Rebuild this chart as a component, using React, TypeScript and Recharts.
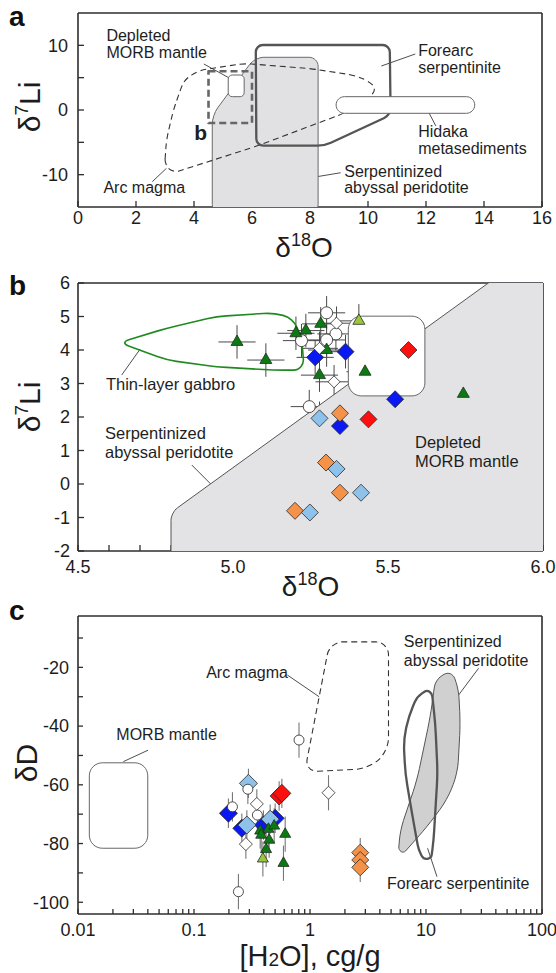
import React from 'react';
import { ScatterChart, Scatter, XAxis, YAxis, ErrorBar, ReferenceLine } from 'recharts';

const FONT = '"Liberation Sans", Arial, Helvetica, sans-serif';
const INK = '#2e2e2e';

const GREEN = '#0c7a12';
const LIME = '#9cc63e';
const BLUE = '#0a18f2';
const RED = '#fb0f0f';
const ORANGE = '#f5924a';
const SKY = '#8ec2ea';

type Pt = { x: number; y: number };
type Obs = { x: number; y: number; ex?: number; ey?: number };
type Note = { x: number; y: number; text: string[] };

// ---------- (a) δ18O vs δ7Li: reference fields ----------
const aArcMagma: Pt[] = [
  { x: 2.99, y: -8.5 }, { x: 3.29, y: -9.7 }, { x: 6.09, y: -5.7 }, { x: 9.18, y: -0.5 },
  { x: 10.1, y: 2.1 }, { x: 10.28, y: 3.4 }, { x: 9.97, y: 4.6 }, { x: 9.49, y: 5.4 },
  { x: 8.03, y: 6.4 }, { x: 5.72, y: 7.2 }, { x: 4.14, y: 6.1 }, { x: 3.66, y: 4.6 },
  { x: 3.53, y: 3.1 }, { x: 3.29, y: 0 }, { x: 3.05, y: -4.6 },
];
const aPeridotite: Pt[] = [
  { x: 4.63, y: -16 }, { x: 4.63, y: -0.8 }, { x: 6.1, y: 8.15 }, { x: 8.28, y: 8.15 }, { x: 8.28, y: -16 },
];
const aForearc: Pt[] = [
  { x: 6.13, y: 10.05 }, { x: 10.75, y: 10.05 }, { x: 10.78, y: -0.77 }, { x: 8.5, y: -5.52 }, { x: 6.15, y: -5.52 },
];
const aMorb: Pt[] = [
  { x: 5.18, y: 5.41 }, { x: 5.73, y: 5.41 }, { x: 5.73, y: 2.06 }, { x: 5.18, y: 2.06 },
];
const aHidaka: Pt[] = [
  { x: 8.9, y: 2.06 }, { x: 13.68, y: 2.06 }, { x: 13.68, y: -0.51 }, { x: 8.9, y: -0.51 },
];
const aInset: Pt[] = [
  { x: 4.5, y: 6 }, { x: 6, y: 6 }, { x: 6, y: -2 }, { x: 4.5, y: -2 },
];
const aNotes: Note[] = [
  { x: 0.98, y: 10.67, text: ['Depleted', 'MORB mantle'] },
  { x: 11.73, y: 8.35, text: ['Forearc', 'serpentinite'] },
  { x: 11.73, y: -4.18, text: ['Hidaka', 'metasediments'] },
  { x: 9.18, y: -10.36, text: ['Serpentinized', 'abyssal peridotite'] },
  { x: 0.875, y: -12.83, text: ['Arc magma'] },
];
const aInsetTag: Note[] = [{ x: 4.01, y: -4.64, text: ['b'] }];
const aLeaders: [Pt, Pt][] = [
  [{ x: 4.34, y: 7.11 }, { x: 5.28, y: 4.79 }],
  [{ x: 11.63, y: 8.66 }, { x: 10.46, y: 6.8 }],
  [{ x: 12.34, y: -2.47 }, { x: 12.1, y: -0.42 }],
  [{ x: 9.06, y: -9.7 }, { x: 7.91, y: -10.56 }],
  [{ x: 2.56, y: -11.09 }, { x: 3.05, y: -9.02 }],
];
const aXTicks = [0, 2, 4, 6, 8, 10, 12, 14, 16];
const aYTicks = [-10, -5, 0, 5, 10];

// ---------- (b) close-up of the inset ----------
const bPeridotite: Pt[] = [
  { x: 4.8, y: -2.3 }, { x: 4.8, y: -0.85 }, { x: 5.861, y: 6.25 }, { x: 6.1, y: 6.25 }, { x: 6.1, y: -2.3 },
];
const bMorb: Pt[] = [
  { x: 5.372, y: 5.01 }, { x: 5.619, y: 5.01 }, { x: 5.619, y: 2.63 }, { x: 5.372, y: 2.63 },
];
const bGabbro: Pt[] = [
  { x: 4.633, y: 4.22 }, { x: 4.786, y: 4.65 }, { x: 4.947, y: 5.0 }, { x: 5.13, y: 5.11 },
  { x: 5.195, y: 4.95 }, { x: 5.222, y: 4.3 }, { x: 5.228, y: 3.6 }, { x: 5.21, y: 3.4 },
  { x: 5.13, y: 3.4 }, { x: 4.947, y: 3.5 }, { x: 4.786, y: 3.7 },
];
const bGreen: Obs[] = [
  { x: 5.013, y: 4.24, ex: 0.06, ey: 0.5 }, { x: 5.106, y: 3.7, ex: 0.06, ey: 0.5 },
  { x: 5.203, y: 4.5, ex: 0.06, ey: 0.5 }, { x: 5.235, y: 4.58, ex: 0.06, ey: 0.5 },
  { x: 5.283, y: 4.78, ex: 0.06, ey: 0.5 }, { x: 5.302, y: 4.0, ex: 0.06, ey: 0.5 },
  { x: 5.426, y: 3.35, ex: 0.06, ey: 0.5 }, { x: 5.279, y: 3.25, ex: 0.06, ey: 0.5 },
  { x: 5.743, y: 2.69, ex: 0.06, ey: 0.5 },
];
const bLime: Obs[] = [{ x: 5.406, y: 4.87, ex: 0.06, ey: 0.5 }];
const bCircle: Obs[] = [
  { x: 5.302, y: 5.11, ex: 0.06, ey: 0.5 }, { x: 5.332, y: 4.48, ex: 0.06, ey: 0.5 },
  { x: 5.221, y: 4.28, ex: 0.06, ey: 0.5 }, { x: 5.302, y: 4.3, ex: 0.06, ey: 0.5 },
  { x: 5.246, y: 2.31, ex: 0.06, ey: 0.5 },
];
const bWhite: Obs[] = [
  { x: 5.334, y: 4.8, ex: 0.06, ey: 0.5 }, { x: 5.279, y: 4.05, ex: 0.06, ey: 0.5 },
  { x: 5.326, y: 3.05, ex: 0.06, ey: 0.5 },
];
const bBlue: Obs[] = [
  { x: 5.265, y: 3.78, ex: 0.06, ey: 0.5 }, { x: 5.363, y: 3.95, ex: 0.06, ey: 0.5 },
  { x: 5.523, y: 2.53, ex: 0.06, ey: 0.5 }, { x: 5.345, y: 1.73, ex: 0.06, ey: 0.5 },
];
const bRed: Obs[] = [
  { x: 5.566, y: 4.0, ex: 0.06, ey: 0.5 }, { x: 5.437, y: 1.93, ex: 0.06, ey: 0.5 },
];
const bOrange: Obs[] = [
  { x: 5.345, y: 2.11, ex: 0.06, ey: 0.5 }, { x: 5.3, y: 0.64, ex: 0.06, ey: 0.45 },
  { x: 5.345, y: -0.26, ex: 0.06, ey: 0.5 }, { x: 5.2, y: -0.8, ex: 0.06, ey: 0.42 },
];
const bSky: Obs[] = [
  { x: 5.279, y: 1.96, ex: 0.06, ey: 0.5 }, { x: 5.334, y: 0.45, ex: 0.06, ey: 0.5 },
  { x: 5.413, y: -0.26, ex: 0.06, ey: 0.5 }, { x: 5.248, y: -0.85, ex: 0.06, ey: 0.42 },
];
const bNotes: Note[] = [
  { x: 4.59, y: 2.806, text: ['Thin-layer gabbro'] },
  { x: 4.587, y: 1.343, text: ['Serpentinized', 'abyssal peridotite'] },
  { x: 5.587, y: 1.06, text: ['Depleted', 'MORB mantle'] },
];
const bLeaders: [Pt, Pt][] = [
  [{ x: 4.641, y: 3.254 }, { x: 4.7, y: 4.021 }],
  [{ x: 4.867, y: 0.567 }, { x: 4.953, y: -0.23 }],
  [{ x: 5.652, y: 1.412 }, { x: 5.603, y: 2.904 }],
];
const bXTicks = [4.5, 4.6, 4.7, 4.8, 4.9, 5.0, 5.1, 5.2, 5.3, 5.4, 5.5, 5.6, 5.7, 5.8, 5.9, 6.0];
const bYTicks = [-2, -1, 0, 1, 2, 3, 4, 5, 6];

// ---------- (c) water content vs δD ----------
const cMorb: Pt[] = [
  { x: 0.01252, y: -52.5 }, { x: 0.03995, y: -52.5 }, { x: 0.03995, y: -81.6 }, { x: 0.01252, y: -81.6 },
];
const cArc: Pt[] = [
  { x: 1.48, y: -11.3 }, { x: 4.75, y: -11.3 }, { x: 4.75, y: -48.5 }, { x: 3.2, y: -54.5 }, { x: 0.9, y: -55.6 },
];
const cSerp: Pt[] = [
  { x: 15.18, y: -21.7 }, { x: 17.3, y: -22.6 }, { x: 19.11, y: -27.7 }, { x: 19.77, y: -39.1 },
  { x: 18.74, y: -56.1 }, { x: 15.18, y: -65.2 }, { x: 10.2, y: -74.3 }, { x: 6.41, y: -83.3 },
  { x: 5.8, y: -82.2 }, { x: 6.0, y: -75.4 }, { x: 8.36, y: -58.4 }, { x: 10.89, y: -36.8 },
  { x: 12.03, y: -24.3 },
];
const cForearc: Pt[] = [
  { x: 10.2, y: -27.7 }, { x: 8.36, y: -30.0 }, { x: 7.08, y: -36.8 }, { x: 6.41, y: -44.7 },
  { x: 6.63, y: -56.1 }, { x: 7.57, y: -69.7 }, { x: 8.63, y: -82.2 }, { x: 9.54, y: -85.4 },
  { x: 11.11, y: -85.0 }, { x: 11.63, y: -78.8 }, { x: 12.59, y: -56.1 }, { x: 12.03, y: -39.1 },
  { x: 11.27, y: -28.9 },
];
const cCircle: Obs[] = [
  { x: 0.2912, y: -61.5, ey: 5 }, { x: 0.2145, y: -67.5, ey: 5 }, { x: 0.352, y: -70.3, ey: 5 },
  { x: 0.2416, y: -96.4, ey: 6 }, { x: 0.804, y: -44.75, ey: 6 },
];
const cWhite: Obs[] = [
  { x: 0.348, y: -66.5, ey: 5 }, { x: 0.28, y: -80.2, ey: 5 }, { x: 1.444, y: -62.7, ey: 6 },
];
const cSky: Obs[] = [
  { x: 0.2947, y: -59.5, ey: 5 }, { x: 0.2855, y: -73.7, ey: 5 }, { x: 0.4536, y: -71.7, ey: 5 },
];
const cBlue: Obs[] = [
  { x: 0.198, y: -69.7, ey: 5 }, { x: 0.2585, y: -74.8, ey: 5 }, { x: 0.5008, y: -71.4, ey: 5 }, { x: 0.397, y: -73.7, ey: 5 },
];
const cRed: Obs[] = [{ x: 0.542, y: -63.8, ey: 5 }, { x: 0.572, y: -62.9, ey: 5 }];
const cOrange: Obs[] = [{ x: 2.711, y: -83.1, ey: 5 }, { x: 2.711, y: -85.6, ey: 5 }, { x: 2.711, y: -88.1, ey: 5 }];
const cGreen: Obs[] = [
  { x: 0.3718, y: -75.7, ey: 6 }, { x: 0.4385, y: -75.1, ey: 6 }, { x: 0.491, y: -74.0, ey: 6 },
  { x: 0.611, y: -76.8, ey: 6 }, { x: 0.4446, y: -78.8, ey: 6 }, { x: 0.4188, y: -82.0, ey: 6 },
  { x: 0.3795, y: -77.1, ey: 6 }, { x: 0.5906, y: -86.7, ey: 6 },
];
const cLime: Obs[] = [{ x: 0.3924, y: -85.2, ey: 6 }];
const cNotes: Note[] = [
  { x: 0.1273, y: -23.6, text: ['Arc magma'] },
  { x: 6.44, y: -13.1, text: ['Serpentinized', 'abyssal peridotite'] },
  { x: 0.0214, y: -44.75, text: ['MORB mantle'] },
  { x: 4.61, y: -95.4, text: ['Forearc serpentinite'] },
];
const cLeaders: [Pt, Pt][] = [
  [{ x: 0.638, y: -22.6 }, { x: 1.198, y: -30.0 }],
  [{ x: 28.4, y: -20.3 }, { x: 17.3, y: -31.7 }],
  [{ x: 0.0402, y: -48.2 }, { x: 0.0246, y: -52.1 }],
  [{ x: 12.44, y: -91.3 }, { x: 10.32, y: -81.6 }],
];
const cXTicks = [
  0.01, 0.02, 0.03, 0.04, 0.05, 0.06, 0.07, 0.08, 0.09,
  0.1, 0.2, 0.3, 0.4, 0.5, 0.6, 0.7, 0.8, 0.9,
  1, 2, 3, 4, 5, 6, 7, 8, 9,
  10, 20, 30, 40, 50, 60, 70, 80, 90, 100,
];
const cXLabels = [0.01, 0.1, 1, 10, 100];
const cYTicks = [-100, -90, -80, -70, -60, -50, -40, -30, -20, -10];

// closed outline with softened corners, drawn through the scatter line points
function roundedPath(pts: { x: number; y: number }[], r: number) {
  const n = pts.length;
  if (!n) return '';
  let d = '';
  for (let i = 0; i < n; i++) {
    const p0 = pts[(i - 1 + n) % n];
    const p1 = pts[i];
    const p2 = pts[(i + 1) % n];
    const l1 = Math.hypot(p0.x - p1.x, p0.y - p1.y) || 1;
    const l2 = Math.hypot(p2.x - p1.x, p2.y - p1.y) || 1;
    const rr = Math.min(r, l1 / 2, l2 / 2);
    const ax = p1.x + ((p0.x - p1.x) * rr) / l1;
    const ay = p1.y + ((p0.y - p1.y) * rr) / l1;
    const bx = p1.x + ((p2.x - p1.x) * rr) / l2;
    const by = p1.y + ((p2.y - p1.y) * rr) / l2;
    const k = 0.55;
    d += `${i === 0 ? 'M' : 'L'}${ax},${ay}C${ax + (p1.x - ax) * k},${ay + (p1.y - ay) * k} ${bx + (p1.x - bx) * k},${by + (p1.y - by) * k} ${bx},${by}`;
  }
  return d + 'Z';
}

const blank = () => <g />;

function region(key: string, pts: Pt[], r: number, style: React.SVGProps<SVGPathElement>) {
  return (
    <Scatter
      key={key}
      data={pts}
      shape={blank}
      isAnimationActive={false}
      line={(p: any) => <path d={roundedPath(p.points, r)} strokeLinejoin="round" {...style} />}
    />
  );
}

function notes(key: string, items: Note[], size: number, gap: number, weight = 400) {
  return (
    <Scatter
      key={key}
      data={items}
      isAnimationActive={false}
      shape={(p: any) => (
        <text x={p.cx} y={p.cy} fontSize={size} fontFamily={FONT} fontWeight={weight} fill="#1e1e1e">
          {p.payload.text.map((t: string, i: number) => (
            <tspan key={i} x={p.cx} dy={i ? gap : 0}>{t}</tspan>
          ))}
        </text>
      )}
    />
  );
}

function leaders(key: string, segs: [Pt, Pt][]) {
  return segs.map((s, i) => (
    <ReferenceLine key={`${key}${i}`} segment={s} stroke="#3a3a3a" strokeWidth={0.9} ifOverflow="visible" />
  ));
}

const diamond = (fill: string, h: number) => (p: any) => (
  <path
    d={`M${p.cx},${p.cy - h}L${p.cx + h},${p.cy}L${p.cx},${p.cy + h}L${p.cx - h},${p.cy}Z`}
    fill={fill}
    stroke="#2a2a2a"
    strokeWidth={0.8}
  />
);
const triangle = (fill: string, s: number) => (p: any) => {
  const h = s * 0.87;
  return (
    <path
      d={`M${p.cx},${p.cy - (2 * h) / 3}L${p.cx + s / 2},${p.cy + h / 3}L${p.cx - s / 2},${p.cy + h / 3}Z`}
      fill={fill}
      stroke="#1f2f1f"
      strokeWidth={0.8}
    />
  );
};
const ring = (r: number) => (p: any) => (
  <circle cx={p.cx} cy={p.cy} r={r} fill="#fff" stroke="#3a3a3a" strokeWidth={0.9} />
);

function marks(key: string, data: Obs[], shape: (p: any) => React.ReactElement) {
  return <Scatter key={key} data={data} shape={shape} isAnimationActive={false} />;
}

const yTitle = (parts: React.ReactNode, dx: number, dy: number, size = 30) => (props: any) => {
  const vb = props.viewBox;
  const x = vb.x + vb.width - dx;
  const y = vb.y + vb.height / 2 + dy;
  return (
    <text transform={`translate(${x},${y}) rotate(-90)`} textAnchor="middle" fontSize={size} fontFamily={FONT} fill="#1c1c1c">
      {parts}
    </text>
  );
};

const xTitle = (parts: React.ReactNode, dy: number, size = 28, dx = 0) => (props: any) => {
  const vb = props.viewBox;
  return (
    <text x={vb.x + vb.width / 2 + dx} y={vb.y + dy} textAnchor="middle" fontSize={size} fontFamily={FONT} fill="#1c1c1c">
      {parts}
    </text>
  );
};

const dO18 = <>δ<tspan dy={-11} fontSize={18}>18</tspan><tspan dy={11}>O</tspan></>;
const dLi7 = <>δ<tspan dy={-12} fontSize={19}>7</tspan><tspan dy={12}>Li</tspan></>;

type FrameOpts = {
  xDomain: [number, number];
  yDomain: [number, number];
  xTicks: number[];
  yTicks: number[];
  xFmt: (v: number) => string;
  yFmt: (v: number) => string;
  log?: boolean;
  tick: number;
  xGap: number;
  yGap: number;
  xLabel: (p: any) => React.ReactElement;
  yLabel: (p: any) => React.ReactElement;
};

// boxed frame: labelled bottom/left axes plus tick-only mirrors on top/right, ticks pointing in
function frame(o: FrameOpts) {
  const axisLine = { stroke: INK, strokeWidth: 1.6 };
  const tickLine = { stroke: INK, strokeWidth: 1.3 };
  const tickText = { fill: '#1c1c1c', fontSize: 18, fontFamily: FONT };
  const scale = o.log ? 'log' : 'linear';
  return [
    <XAxis
      key="xb" dataKey="x" type="number" scale={scale} domain={o.xDomain} ticks={o.xTicks} interval={0}
      allowDataOverflow tickFormatter={o.xFmt} tickSize={-o.tick} tickMargin={o.xGap}
      axisLine={axisLine} tickLine={tickLine} tick={tickText} height={30} label={o.xLabel}
    />,
    <XAxis
      key="xt" xAxisId="top" orientation="top" type="number" scale={scale} domain={o.xDomain} ticks={o.xTicks}
      interval={0} allowDataOverflow tick={false} tickSize={-o.tick} axisLine={axisLine} tickLine={tickLine} height={1}
    />,
    <YAxis
      key="yl" dataKey="y" type="number" domain={o.yDomain} ticks={o.yTicks} interval={0}
      allowDataOverflow tickFormatter={o.yFmt} tickSize={-o.tick} tickMargin={o.yGap}
      axisLine={axisLine} tickLine={tickLine} tick={tickText} width={40} label={o.yLabel}
    />,
    <YAxis
      key="yr" yAxisId="right" orientation="right" type="number" domain={o.yDomain} ticks={o.yTicks}
      interval={0} allowDataOverflow tick={false} tickSize={-o.tick} axisLine={axisLine} tickLine={tickLine} width={1}
    />,
  ];
}

const letterStyle: React.CSSProperties = {
  position: 'absolute',
  left: 9,
  fontFamily: FONT,
  fontWeight: 700,
  fontSize: 28,
  lineHeight: '28px',
  color: '#111',
};

const bAll = [...bGreen, ...bLime, ...bCircle, ...bWhite, ...bBlue, ...bRed, ...bOrange, ...bSky];
const cAll = [...cGreen, ...cLime, ...cCircle, ...cWhite, ...cBlue, ...cRed, ...cOrange, ...cSky];

export default function App() {
  return (
    <div style={{ position: 'absolute', left: 0, top: 0, width: 556, height: 973, background: '#fff' }}>
      <div style={{ position: 'absolute', left: 0, top: 0 }}>
        <ScatterChart width={556} height={265} margin={{ top: 12, right: 13, bottom: 28, left: 38 }}>
          {frame({
            xDomain: [0, 16],
            yDomain: [-15, 15],
            xTicks: aXTicks,
            yTicks: aYTicks,
            xFmt: (v) => String(v),
            yFmt: (v) => (v % 10 === 0 ? String(v) : ''),
            tick: 6,
            xGap: 10,
            yGap: 16,
            xLabel: xTitle(dO18, 50, 28, -6),
            yLabel: yTitle(dLi7, 38, -3),
          })}
          {region('aPer', aPeridotite, 9, { fill: '#e1e1e3', stroke: '#6a6a6a', strokeWidth: 1 })}
          {region('aArc', aArcMagma, 8, { fill: 'none', stroke: '#333', strokeWidth: 1.1, strokeDasharray: '6 4' })}
          {region('aFore', aForearc, 7, { fill: 'none', stroke: '#555', strokeWidth: 2.3 })}
          {region('aInset', aInset, 0, { fill: 'none', stroke: '#666', strokeWidth: 2.6, strokeDasharray: '7 4' })}
          {region('aMorb', aMorb, 4, { fill: '#fff', stroke: '#666', strokeWidth: 1 })}
          {region('aHid', aHidaka, 9, { fill: '#fff', stroke: '#666', strokeWidth: 1 })}
          {leaders('la', aLeaders)}
          {notes('aNotes', aNotes, 16, 16.5)}
          {notes('aTag', aInsetTag, 21, 0, 700)}
        </ScatterChart>
      </div>

      <div style={{ position: 'absolute', left: 0, top: 260 }}>
        <ScatterChart width={556} height={345} margin={{ top: 22, right: 12, bottom: 24, left: 38 }}>
          {frame({
            xDomain: [4.5, 6.0],
            yDomain: [-2, 6],
            xTicks: bXTicks,
            yTicks: bYTicks,
            xFmt: (v) => (Math.abs(v * 2 - Math.round(v * 2)) < 1e-6 ? v.toFixed(1) : ''),
            yFmt: (v) => String(v),
            tick: 6,
            xGap: 15,
            yGap: 14,
            xLabel: xTitle(dO18, 45),
            yLabel: yTitle(dLi7, 38, -10),
          })}
          {region('bPer', bPeridotite, 8, { fill: '#e3e3e5', stroke: '#555', strokeWidth: 1 })}
          {region('bMorb', bMorb, 13, { fill: '#fff', stroke: '#666', strokeWidth: 1 })}
          {region('bGab', bGabbro, 10, { fill: 'none', stroke: '#1f8a1f', strokeWidth: 1.6 })}
          {leaders('lb', bLeaders)}
          {notes('bNotes', bNotes, 16.5, 18.5)}
          <Scatter data={bAll} shape={blank} isAnimationActive={false}>
            <ErrorBar dataKey="ex" direction="x" width={0} stroke="#4a4a4a" strokeWidth={1} />
            <ErrorBar dataKey="ey" direction="y" width={0} stroke="#4a4a4a" strokeWidth={1} />
          </Scatter>
          {marks('bCircle', bCircle, ring(6))}
          {marks('bGreen', bGreen, triangle(GREEN, 12))}
          {marks('bLime', bLime, triangle(LIME, 12))}
          {marks('bBlue', bBlue, diamond(BLUE, 8.5))}
          {marks('bRed', bRed, diamond(RED, 8.5))}
          {marks('bOrange', bOrange, diamond(ORANGE, 8.5))}
          {marks('bSky', bSky, diamond(SKY, 8.5))}
          {marks('bWhite', bWhite, diamond('#fff', 6))}
        </ScatterChart>
      </div>

      <div style={{ position: 'absolute', left: 0, top: 590 }}>
        <ScatterChart width={556} height={383} margin={{ top: 25, right: 13, bottom: 29, left: 38 }}>
          {frame({
            xDomain: [0.01, 100],
            yDomain: [-104, -2.5],
            xTicks: cXTicks,
            yTicks: cYTicks,
            xFmt: (v) => (cXLabels.some((l) => Math.abs(l - v) < l * 1e-6) ? String(v) : ''),
            yFmt: (v) => (v % 20 === 0 ? String(v) : ''),
            log: true,
            tick: 5,
            xGap: 14,
            yGap: 14,
            xLabel: xTitle(<>[H<tspan fontSize={19}>2</tspan>O], cg/g</>, 52, 29),
            yLabel: yTitle(<>δD</>, 41, -2, 30),
          })}
          {region('cMorb', cMorb, 13, { fill: '#fff', stroke: '#666', strokeWidth: 1 })}
          {region('cArc', cArc, 13, { fill: 'none', stroke: '#333', strokeWidth: 1.1, strokeDasharray: '6 4' })}
          {region('cSerp', cSerp, 12, { fill: '#d0d0d0', stroke: '#555', strokeWidth: 1 })}
          {region('cFore', cForearc, 12, { fill: 'none', stroke: '#555', strokeWidth: 2.3 })}
          {leaders('lc', cLeaders)}
          {notes('cNotes', cNotes, 16, 18.5)}
          <Scatter data={cAll} shape={blank} isAnimationActive={false}>
            <ErrorBar dataKey="ey" direction="y" width={0} stroke="#777" strokeWidth={1.1} />
          </Scatter>
          {marks('cBlue', cBlue, diamond(BLUE, 9))}
          {marks('cSky', cSky, diamond(SKY, 9))}
          {marks('cRed', cRed, diamond(RED, 9))}
          {marks('cOrange', cOrange, diamond(ORANGE, 8.5))}
          {marks('cGreen', cGreen, triangle(GREEN, 11))}
          {marks('cLime', cLime, triangle(LIME, 11))}
          {marks('cWhite', cWhite, diamond('#fff', 6.5))}
          {marks('cCircle', cCircle, ring(5))}
        </ScatterChart>
      </div>

      <span style={{ ...letterStyle, top: 3 }}>a</span>
      <span style={{ ...letterStyle, top: 272 }}>b</span>
      <span style={{ ...letterStyle, top: 597 }}>c</span>
    </div>
  );
}
